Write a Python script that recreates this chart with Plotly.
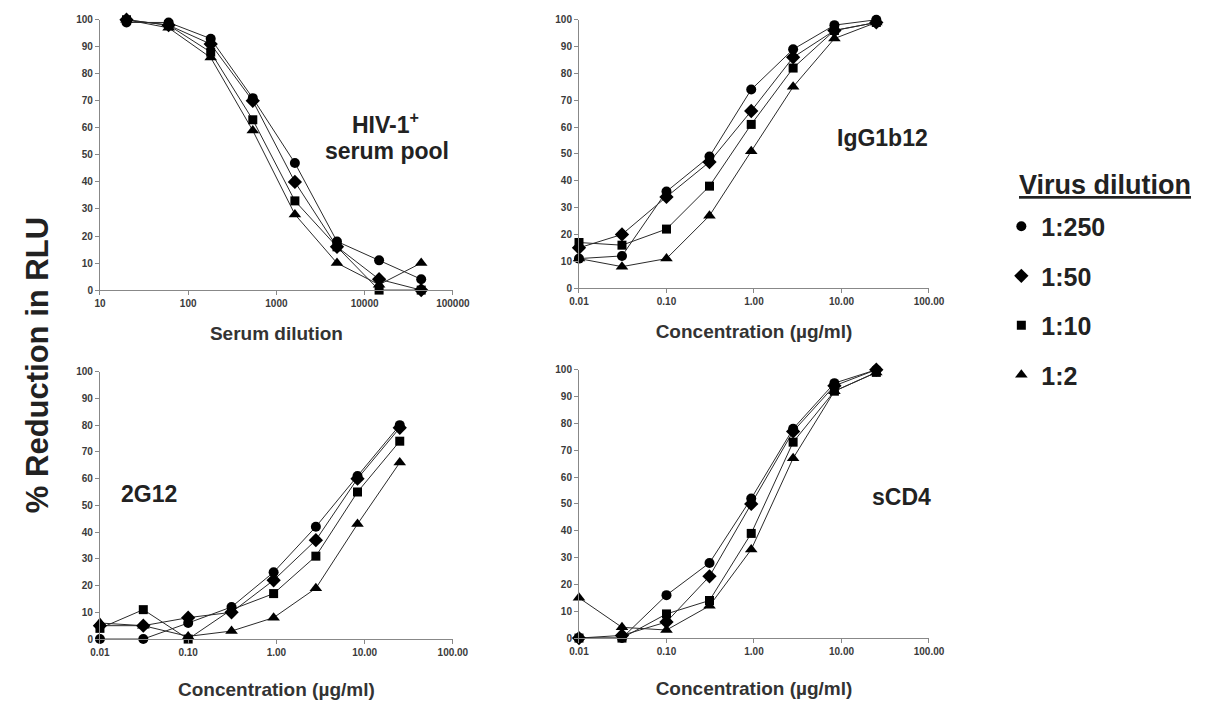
import plotly.graph_objects as go

# ---------------- data ----------------
series_names = ["1:250", "1:50", "1:10", "1:2"]
series_symbols = ["circle", "diamond", "square", "triangle-up"]
series_sizes = [10, 11, 9, 11]

serum_dilution = [20, 60, 180, 540, 1620, 4860, 14580, 43740]
concentration = [0.01, 0.031, 0.1, 0.31, 0.93, 2.8, 8.3, 25]

serum_pool = {
    "1:250": [99, 99, 93, 71, 47, 18, 11, 4],
    "1:50": [100, 98, 91, 70, 40, 16, 4, 0],
    "1:10": [100, 98, 88, 63, 33, 16, 0, 0],
    "1:2": [100, 97, 86, 59, 28, 10, 2, 10],
}
igg1b12 = {
    "1:250": [11, 12, 36, 49, 74, 89, 98, 100],
    "1:50": [15, 20, 34, 47, 66, 86, 96, 99],
    "1:10": [17, 16, 22, 38, 61, 82, 96, 99],
    "1:2": [11, 8, 11, 27, 51, 75, 93, 99],
}
g2g12 = {
    "1:250": [0, 0, 6, 12, 25, 42, 61, 80],
    "1:50": [5, 5, 8, 10, 22, 37, 60, 79],
    "1:10": [4, 11, 0, 11, 17, 31, 55, 74],
    "1:2": [6, 5, 1, 3, 8, 19, 43, 66],
}
scd4 = {
    "1:250": [0, 0, 16, 28, 52, 78, 95, 100],
    "1:50": [0, 1, 6, 23, 50, 77, 94, 100],
    "1:10": [0, 0, 9, 14, 39, 73, 92, 99],
    "1:2": [15, 4, 3, 12, 33, 67, 92, 99],
}

serum_ticks = [10, 100, 1000, 10000, 100000]
serum_ticktext = ["10", "100", "1000", "10000", "100000"]
conc_ticks = [0.01, 0.1, 1, 10, 100]
conc_ticktext = ["0.01", "0.10", "1.00", "10.00", "100.00"]
y_ticks = list(range(0, 101, 10))

# ---------------- layout helpers ----------------
W, H = 1208, 706
FONT = "Liberation Sans, Arial, Helvetica, sans-serif"


def px_x(v):
    return v / W


def px_y(v):
    return 1 - v / H


panels = [
    (serum_pool, serum_dilution, (92, 453), (14, 289), [1, 5], serum_ticks, serum_ticktext, "Serum dilution", 18),
    (igg1b12, concentration, (582, 940), (14, 287), [-2, 2], conc_ticks, conc_ticktext, "Concentration (µg/ml)", 18),
    (g2g12, concentration, (92, 453), (372, 644), [-2, 2], conc_ticks, conc_ticktext, "Concentration (µg/ml)", 25),
    (scd4, concentration, (582, 940), (370, 643), [-2, 2], conc_ticks, conc_ticktext, "Concentration (µg/ml)", 25),
]

fig = go.Figure()
layout = dict(
    width=W, height=H,
    margin=dict(l=0, r=0, t=0, b=0),
    paper_bgcolor="white", plot_bgcolor="white",
    font=dict(family=FONT, color="#222"),
)

tick_font = dict(family=FONT, size=10, color="#3a3a3a", weight="bold")
title_font = dict(family=FONT, size=19, color="#333", weight="bold")

for i, (data, xs, xd, yd, xr, tv, tt, xtitle, stand) in enumerate(panels):
    n = "" if i == 0 else str(i + 1)
    # connecting lines
    for name in series_names:
        fig.add_trace(go.Scatter(
            x=xs, y=data[name], mode="lines", name=name,
            xaxis="x" + n, yaxis="y" + n,
            line=dict(color="#2a2a2a", width=1),
            cliponaxis=False, legendgroup=name, showlegend=False,
            hoverinfo="skip",
        ))
    # markers
    for name, sym, sz in zip(series_names, series_symbols, series_sizes):
        fig.add_trace(go.Scatter(
            x=xs, y=data[name], mode="markers", name=name,
            xaxis="x" + n, yaxis="y" + n,
            marker=dict(symbol=sym, size=sz, color="black"),
            cliponaxis=False,
            legendgroup=name, showlegend=(i == 0),
        ))
    layout["xaxis" + n] = dict(
        type="log", range=xr, domain=[px_x(xd[0]), px_x(xd[1])],
        anchor="y" + n, tickvals=tv, ticktext=tt, tickfont=tick_font,
        showline=True, linecolor="#888", linewidth=1, ticks="outside",
        ticklen=4, tickcolor="#888", showgrid=False, zeroline=False,
        title=dict(text=xtitle, font=title_font, standoff=stand),
    )
    layout["yaxis" + n] = dict(
        range=[0, 100], domain=[px_y(yd[1]), px_y(yd[0])],
        anchor="x" + n, tickvals=y_ticks, tickfont=tick_font,
        showline=True, linecolor="#888", linewidth=1, ticks="outside",
        ticklen=4, tickcolor="#888", showgrid=False, zeroline=False,
    )

label_font = dict(family=FONT, size=23, color="#222", weight="bold")
annotations = [
    dict(text="HIV-1<sup>+</sup>", x=px_x(384), y=px_y(119), xref="paper", yref="paper",
         showarrow=False, font=label_font, xanchor="center", yanchor="middle"),
    dict(text="serum pool", x=px_x(386), y=px_y(147), xref="paper", yref="paper",
         showarrow=False, font=label_font, xanchor="center", yanchor="middle"),
    dict(text="IgG1b12", x=px_x(892), y=px_y(134), xref="paper", yref="paper",
         showarrow=False, font=label_font, xanchor="center", yanchor="middle"),
    dict(text="2G12", x=px_x(142), y=px_y(496), xref="paper", yref="paper",
         showarrow=False, font=label_font, xanchor="center", yanchor="middle"),
    dict(text="sCD4", x=px_x(912), y=px_y(499), xref="paper", yref="paper",
         showarrow=False, font=label_font, xanchor="center", yanchor="middle"),
    dict(text="% Reduction in RLU", x=px_x(28), y=px_y(365), xref="paper", yref="paper",
         showarrow=False, textangle=-90, xanchor="center", yanchor="middle",
         font=dict(family=FONT, size=31, color="#222", weight="bold")),
    dict(text="Virus dilution", x=px_x(1030), y=px_y(182), xref="paper", yref="paper",
         showarrow=False, xanchor="left", yanchor="middle",
         font=dict(family=FONT, size=27, color="#222", weight="bold", lineposition="under")),
]
layout["annotations"] = annotations
layout["legend"] = dict(
    x=px_x(1014), y=px_y(201), xanchor="left", yanchor="top",
    font=dict(family=FONT, size=25, color="#222", weight="bold"),
    bgcolor="rgba(0,0,0,0)", tracegroupgap=14, itemsizing="trace",
)
layout["showlegend"] = True

fig.update_layout(**layout)
fig.write_html("out.html")
